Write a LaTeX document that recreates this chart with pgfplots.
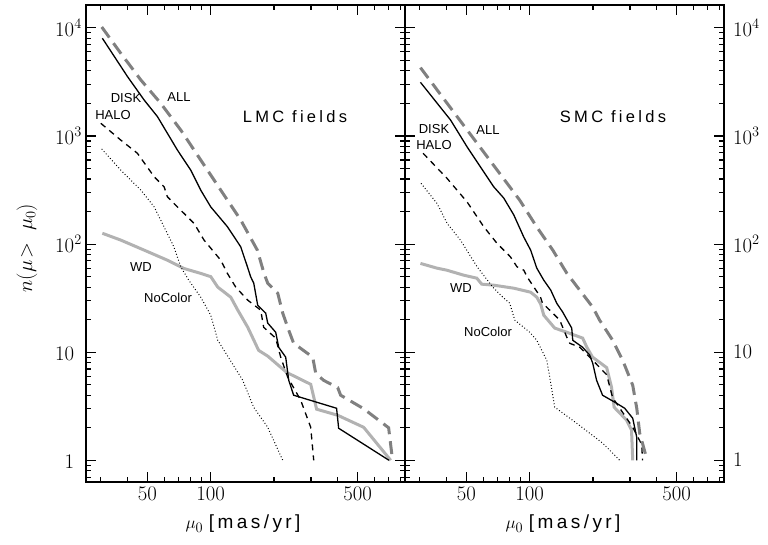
\documentclass[border=0pt]{standalone}
\usepackage{fontspec}
\setsansfont{Liberation Sans}
\usepackage{pgfplots}
\pgfplotsset{compat=1.18}
\definecolor{allgray}{RGB}{128,128,128}
\definecolor{wdgray}{RGB}{178,178,178}
\newcommand{\lab}{\sffamily\fontsize{13}{15}\selectfont}
\newcommand{\fldfont}{\sffamily\fontsize{16.5}{19}\selectfont\addfontfeature{LetterSpace=20}}
\tikzset{
  allst/.style={allgray, line width=3pt, dash pattern=on 13pt off 7pt},
  diskst/.style={black, line width=1.3pt},
  halost/.style={black, line width=1.3pt, dash pattern=on 6pt off 5pt},
  ncst/.style={black, line width=1pt, dash pattern=on 0.9pt off 2.2pt},
  wdst/.style={wdgray, line width=3pt},
}
\pgfplotsset{every axis/.append style={
  scale only axis, width=319pt, height=477pt,
  xmin=25.5, xmax=840, ymin=0.63, ymax=16300,
  tick align=inside,
  axis line style={line width=1.6pt},
  major tick style={line width=1.1pt, black},
  minor tick style={line width=1.1pt, black},
  major tick length=10pt, minor tick length=5pt,
  xtick={50,100,500}, xticklabels={$50$,$100$,$500$},
  minor xtick={30,40,60,70,80,90,200,300,400,600,700,800},
  ytick={1,10,100,1000,10000},
  minor ytick={0.7,0.8,0.9,2,3,4,5,6,7,8,9,20,30,40,50,60,70,80,90,200,300,400,500,600,700,800,900,2000,3000,4000,5000,6000,7000,8000,9000},
  tick label style={font=\fontsize{21.5}{25}\selectfont},
  xticklabel style={yshift=-2pt},
}}
\begin{document}
\begin{tikzpicture}
\path[use as bounding box] (0,0) rectangle (768pt,545pt);
% ---------------- LMC ----------------
\begin{loglogaxis}[at={(86pt,63pt)}, anchor=south west,
  yticklabels={$1\phantom{^4}$,$10\phantom{^4}$,$10^2$,$10^3$,$10^4$},
  yticklabel style={inner sep=2pt, xshift=-2pt}]
\addplot[wdst] coordinates {(30.5,126) (37.3,109) (48.2,88) (62.2,71) (74.6,59.5) (89.6,53.6) (100,50) (108,40) (124.5,32.3) (134.5,24.5) (150,17) (169,10.4) (186.7,9.2) (229.8,6.5) (299,5.05) (319,2.97) (402,2.61) (534,2.02) (718,1)};
\addplot[ncst] coordinates {(30.3,759) (37.3,484) (46.5,316) (53.8,221) (62.2,125) (66.8,94) (72,61.6) (78.6,46.4) (89.6,32.3) (100,22) (108,12.9) (114,10.9) (142,5.5) (160,3.1) (186.7,2.02) (220,1)};
\addplot[halost] coordinates {(30,1311) (37.3,918) (44.8,692) (53.8,420) (60,339) (62.2,274) (72,206) (83.3,155.5) (92.9,109) (111.6,71) (120,53.6) (131.5,40) (150,30.3) (172.9,24.5) (178.6,17) (203.7,13.5) (215.2,9) (232.4,5.87) (268,3.59) (299,2.02) (309,1)};
\addplot[diskst] coordinates {(30.5,8030) (40.2,3540) (48.2,2154) (55.8,1510) (69.4,742) (80.3,484) (89.6,316) (100,221) (120,145) (138.9,94.4) (149.5,61.6) (154.9,49.8) (160.2,43.5) (167.3,27.2) (182.6,23) (186.7,18.6) (203.7,15.3) (210.6,11.1) (227.3,9) (235,5.5) (248,4) (397,3.03) (406,1.98) (705,1)};
\addplot[allst] coordinates {(30.3,10200) (37.3,5834) (46.5,3300) (57.8,2009) (72,1136) (89.6,600) (111.6,316) (138.9,167) (166.6,88) (179.3,53.6) (186.7,43.5) (208.3,35.2) (220,23) (234.9,16) (248,12.1) (305.6,9) (315.8,6.4) (344,5.5) (402,4.7) (415,4) (534,3) (702,2) (733,1)};
\end{loglogaxis}
% ---------------- SMC ----------------
\begin{loglogaxis}[at={(405pt,63pt)}, anchor=south west,
  yticklabel pos=right,
  yticklabels={$1$,$10$,$10^2$,$10^3$,$10^4$},
  yticklabel style={inner sep=2pt, xshift=7pt}]
\addplot[wdst] coordinates {(30.2,66.3) (36.1,60) (40.3,57.4) (48.5,51.6) (56,48.4) (59.1,42.6) (67.4,41.7) (84,39.1) (101,35.9) (108,32.3) (112.8,27.8) (116.6,22) (131.5,16.7) (150,15.3) (178.6,13.5) (187,11.1) (199,9) (232.3,7.2) (245,4.74) (252,3.1) (289,2.35) (305,1.9) (309,1)};
\addplot[ncst] coordinates {(30.4,365) (36.2,238) (40.5,155) (46.8,109) (56.2,61.6) (66.7,40) (74.4,32.3) (80.3,28.4) (84.9,19.8) (100,15.3) (108,12.9) (120.5,8.43) (124.5,5.87) (131.5,3.1) (167.3,2.2) (222.4,1.44) (268,1)};
\addplot[halost] coordinates {(31.1,692) (40.4,406) (50.3,246) (52.2,221) (60.4,145) (69.9,101.5) (80.9,76.3) (87,61.6) (93.7,57.4) (97.1,49.8) (104.5,40.2) (112.4,32.5) (115,28.4) (124.5,24.5) (138.9,19.8) (150,13.8) (155,12.1) (173,11.1) (199.4,8.43) (232,6.2) (248,3.8) (309,2.02) (341,1.4) (344,1)};
\addplot[diskst] coordinates {(30.2,3141) (42,1406) (50.3,796) (67.4,339) (75.2,267) (84,186) (93.7,116) (101,88) (108,60) (116.6,46.4) (125.9,37.5) (134.4,28.4) (143.5,23.5) (158.4,16.7) (160.2,12.9) (178.6,11.1) (192.9,9.4) (199.4,7.9) (208,5.5) (222,4) (259,3.37) (283,3.03) (309,2.45) (323,1.63) (323,1)};
\addplot[allst] coordinates {(30.2,4290) (89.6,255) (108,144) (128.7,88) (150,53.9) (172.9,37.5) (199.4,26.1) (215,19.8) (248,12.9) (276.7,8.43) (309,4.95) (323,3.03) (333.6,1.78) (362,1)};
\end{loglogaxis}
% ---------------- texts ----------------
\node[font=\fldfont] at (295pt,428pt) {LMC fields};
\node[font=\fldfont] at (613pt,428pt) {SMC fields};
\node[font=\lab] at (126pt,447pt) {DISK};
\node[font=\lab] at (179pt,448pt) {ALL};
\node[font=\lab] at (113pt,430pt) {HALO};
\node[font=\lab] at (141pt,278pt) {WD};
\node[font=\lab] at (168pt,247pt) {NoColor};
\node[font=\lab] at (434pt,416pt) {DISK};
\node[font=\lab] at (488pt,415pt) {ALL};
\node[font=\lab] at (434pt,400pt) {HALO};
\node[font=\lab] at (461pt,257pt) {WD};
\node[font=\lab] at (488pt,213pt) {NoColor};
\node[font=\fontsize{19}{22}\selectfont] at (243pt,21pt) {$\mu_0$ {\sffamily\addfontfeature{LetterSpace=18}[mas/yr]}};
\node[font=\fontsize{19}{22}\selectfont] at (563pt,21pt) {$\mu_0$ {\sffamily\addfontfeature{LetterSpace=18}[mas/yr]}};
\node[font=\fontsize{20}{24}\selectfont, rotate=90] at (27pt,297pt) {$n(\mu\!>\;\mu_0)$};
\end{tikzpicture}
\end{document}
